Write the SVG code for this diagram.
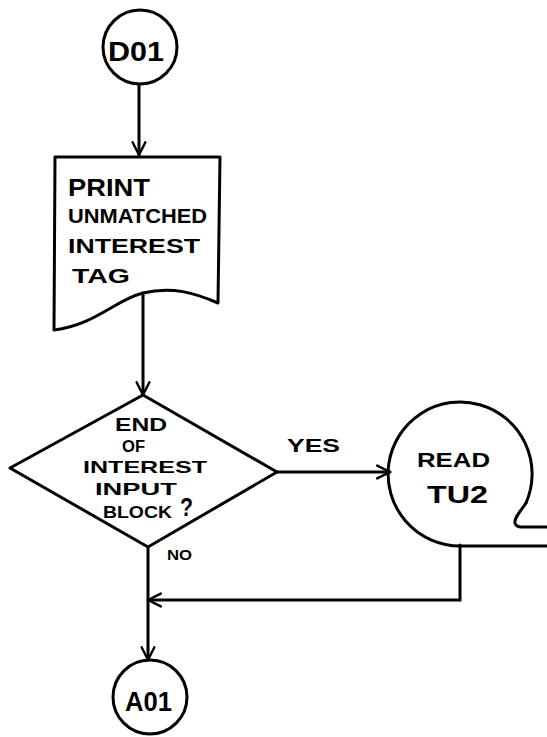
<svg xmlns="http://www.w3.org/2000/svg" width="547" height="737" viewBox="0 0 547 737">
  <style>
    .shape { fill: none; stroke: #000; stroke-width: 3; stroke-linejoin: round; stroke-linecap: round; }
    .edge { fill: none; stroke: #000; stroke-width: 3; stroke-linecap: round; }
    .lbl { font-family: "Liberation Sans", "DejaVu Sans", sans-serif; font-weight: bold; fill: #000; }
  </style>
  <defs>
    <marker id="arrow" viewBox="0 0 20 20" refX="18" refY="10" markerWidth="16" markerHeight="16" markerUnits="userSpaceOnUse" orient="auto">
      <path d="M2,2 L18,10 L2,18" fill="none" stroke="#000" stroke-width="3" stroke-linecap="round" stroke-linejoin="round"/>
    </marker>
  </defs>
  <rect width="547" height="737" fill="#fff"/>

  <!-- connectors -->
  <g id="connectors">
    <line class="edge" x1="139" y1="85" x2="139" y2="155" marker-end="url(#arrow)"/>
    <line class="edge" x1="143" y1="293" x2="143" y2="395" marker-end="url(#arrow)"/>
    <line class="edge" x1="277" y1="472" x2="390" y2="472" marker-end="url(#arrow)"/>
    <polyline class="edge" points="460,545 460,600 148,600" marker-end="url(#arrow)"/>
    <line class="edge" x1="148" y1="547" x2="148" y2="660" marker-end="url(#arrow)"/>
    <text class="lbl" x="287" y="452" font-size="18" textLength="53" lengthAdjust="spacingAndGlyphs">YES</text>
    <text class="lbl" x="167" y="560" font-size="15" textLength="25" lengthAdjust="spacingAndGlyphs">NO</text>
  </g>

  <!-- entry connector -->
  <g id="d01">
    <circle class="shape" cx="140" cy="47" r="37"/>
    <text class="lbl" x="108" y="61" font-size="28" textLength="56" lengthAdjust="spacingAndGlyphs">D01</text>
  </g>

  <!-- printed report -->
  <g id="print-tag">
    <path class="shape" d="M55,157 L220,157 L218,303 C195,293 172,286 143,293 C115,300 95,325 54,330 Z"/>
    <text class="lbl" x="68" y="196" font-size="24" textLength="82" lengthAdjust="spacingAndGlyphs">PRINT</text>
    <text class="lbl" x="68" y="223" font-size="20" textLength="139" lengthAdjust="spacingAndGlyphs">UNMATCHED</text>
    <text class="lbl" x="68" y="253" font-size="21" textLength="132" lengthAdjust="spacingAndGlyphs">INTEREST</text>
    <text class="lbl" x="72" y="283" font-size="21" textLength="58" lengthAdjust="spacingAndGlyphs">TAG</text>
  </g>

  <!-- decision -->
  <g id="end-of-block">
    <path class="shape" d="M143,395 L277,472 L148,547 L10,468 Z"/>
    <text class="lbl" x="115" y="431" font-size="18" textLength="52" lengthAdjust="spacingAndGlyphs">END</text>
    <text class="lbl" x="122" y="452" font-size="16" textLength="23" lengthAdjust="spacingAndGlyphs">OF</text>
    <text class="lbl" x="83" y="473" font-size="17" textLength="124" lengthAdjust="spacingAndGlyphs">INTEREST</text>
    <text class="lbl" x="95" y="495" font-size="17" textLength="82" lengthAdjust="spacingAndGlyphs">INPUT</text>
    <text class="lbl" x="103" y="518" font-size="17" textLength="69" lengthAdjust="spacingAndGlyphs">BLOCK</text>
    <text class="lbl" x="180" y="516" font-size="26" textLength="13" lengthAdjust="spacingAndGlyphs">?</text>
  </g>

  <!-- tape input -->
  <g id="read-tu2">
    <path class="shape" d="M526,503 A72,72 0 1 0 460,546 L547,546"/>
    <path class="shape" d="M526,503 C520,512 514,518 515,523 C516,527 520,527 524,527 L547,527"/>
    <text class="lbl" x="417" y="467" font-size="20" textLength="73" lengthAdjust="spacingAndGlyphs">READ</text>
    <text class="lbl" x="427" y="503" font-size="23" textLength="61" lengthAdjust="spacingAndGlyphs">TU2</text>
  </g>

  <!-- exit connector -->
  <g id="a01">
    <circle class="shape" cx="150" cy="697" r="37"/>
    <text class="lbl" x="125" y="711" font-size="28" textLength="47" lengthAdjust="spacingAndGlyphs">A01</text>
  </g>
</svg>
